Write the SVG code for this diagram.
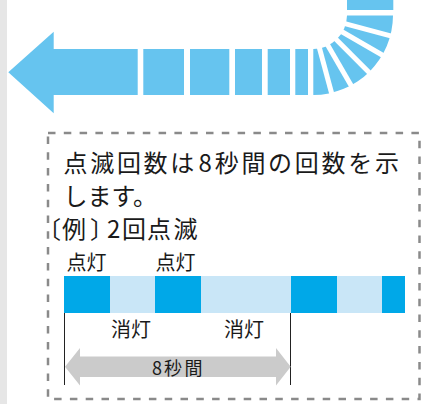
<svg xmlns="http://www.w3.org/2000/svg" width="421" height="404" viewBox="0 0 421 404">
<style>
.jp{font-family:"Noto Sans CJK JP","Noto Sans CJK SC",sans-serif;fill:#1a1a1a}
.big{font-size:24px}
.mid{font-size:20px}
.sm{font-size:18px}
.flow{fill:#66c4ef}
.gapl{stroke:#ffffff;stroke-width:5}
.on{fill:#00a8e8}
.off{fill:#c9e6f7}
.tick{stroke:#222;stroke-width:1}
</style>
<rect x="0" y="0" width="7" height="404" fill="#e6e6e6"/>
<g id="flow-arrow">
<path class="flow" d="M8.3 72.3 L53.7 31.7 L53.7 49 L137.7 49 L137.7 95 L53.7 95 L53.7 113.3 Z"/>
<rect class="flow" x="143.3" y="49" width="40.7" height="46"/>
<rect class="flow" x="190" y="49" width="39.3" height="46"/>
<rect class="flow" x="235" y="49" width="27" height="46"/>
<rect class="flow" x="267.7" y="49" width="22.3" height="46"/>
<rect class="flow" x="295.3" y="49" width="12.7" height="46"/>
<rect class="flow" x="347" y="-5" width="46.3" height="15"/>
<path class="flow" d="M393 15.5 A80 80 0 0 1 313.3 95 L313.3 49 A34 34 0 0 0 347 15.5 Z"/>
<g class="gapl">
<line x1="343.9" y1="23.3" x2="397.1" y2="37.6"/>
<line x1="339.8" y1="30.5" x2="387.4" y2="58"/>
<line x1="333.5" y1="36.8" x2="372.4" y2="75.7"/>
<line x1="326.2" y1="42.4" x2="353.7" y2="90"/>
<line x1="319" y1="46.3" x2="333.3" y2="99.5"/>
</g>
</g>
<rect id="note-box" x="48" y="133" width="371.5" height="266" fill="none" stroke="#8a8a8a" stroke-width="2.5" stroke-dasharray="7.5 8.3"/>
<g id="note-text">
<text class="jp big" y="172" x="63.5 90.2 116.9 143.6 170.3 198.5 214.7 241.4 268.1 294.8 321.5 348.2 374.9">点滅回数は8秒間の回数を示</text>
<text class="jp big" x="63.5" y="205">します。</text>
<text class="jp big" y="238" x="37 62 90 107 122 147 173.5">〔例〕2回点滅</text>
</g>
<g id="blink-bar">
<rect class="on" x="64" y="276" width="46" height="37"/>
<rect class="off" x="110" y="276" width="45" height="37"/>
<rect class="on" x="155" y="276" width="46" height="37"/>
<rect class="off" x="201" y="276" width="90" height="37"/>
<rect class="on" x="291" y="276" width="46" height="37"/>
<rect class="off" x="337" y="276" width="45" height="37"/>
<rect class="on" x="382" y="276" width="23" height="37"/>
</g>
<g id="labels">
<text class="jp mid" x="66.5" y="270">点灯</text>
<text class="jp mid" x="155.5" y="270">点灯</text>
<text class="jp mid" x="111" y="337">消灯</text>
<text class="jp mid" x="224" y="337">消灯</text>
</g>
<g id="connectors">
<line class="tick" x1="64.5" y1="313" x2="64.5" y2="385"/>
<line class="tick" x1="290.5" y1="313" x2="290.5" y2="385"/>
<path d="M65 366.7 L80 348 L80 356.5 L276 356.5 L276 348 L290.7 366.7 L276 385.5 L276 377 L80 377 L80 385.5 Z" fill="#cbcbcb"/>
</g>
<g id="period-label">
<text class="jp sm" y="375" x="152 164 184.5">8秒間</text>
</g>
</svg>
